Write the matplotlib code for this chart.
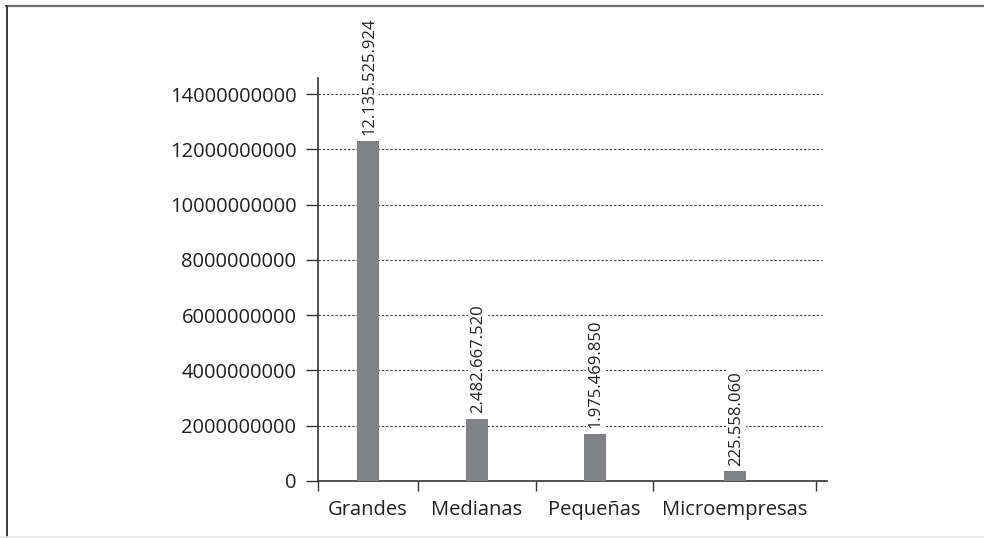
import numpy as np
import matplotlib
matplotlib.use("Agg")
import matplotlib.pyplot as plt
from matplotlib.lines import Line2D
from matplotlib.ticker import FixedLocator, FuncFormatter

plt.rcParams['font.family'] = ['Open Sans', 'DejaVu Sans']

# data
categories = ['Grandes', 'Medianas', 'Pequeñas', 'Microempresas']
bar_values = [12.3e9, 2.25e9, 1.7e9, 0.35e9]
value_labels = ['12.135.525.924', '2.482.667.520', '1.975.469.850', '225.558.060']
y_ticks = [0, 2e9, 4e9, 6e9, 8e9, 10e9, 12e9, 14e9]

# layout: category slots are not the same width in the original
slot_widths = [100, 118, 117, 163]
edges = np.concatenate([[0], np.cumsum(slot_widths)])
centers = (edges[:-1] + edges[1:]) / 2

text_color = '#231f20'
axis_color = '#333333'
bar_color = '#818285'

fig = plt.figure(figsize=(9.84, 5.38), dpi=100)
ax = fig.add_axes([318 / 984, 57 / 538, 509 / 984, 403 / 538])

ax.bar(centers, bar_values, width=22, color=bar_color, zorder=3)

ax.set_xlim(0, edges[-1] + 11)
ax.set_ylim(0, 14.58e9)

# dotted gridlines, stopping a little before the end of the x axis
ax.hlines(y_ticks[1:], 0, edges[-1] + 6, colors='#444444',
          linestyles=(0, (2.2, 1.6)), linewidth=0.8, zorder=1)

for x, v, lab in zip(centers, bar_values, value_labels):
    ax.annotate(lab, xy=(x, v), xytext=(1, 4), textcoords='offset points',
                rotation=90, ha='center', va='bottom', fontsize=12,
                color=text_color, zorder=4,
                bbox=dict(facecolor='white', edgecolor='none', pad=1.5))

for side in ['top', 'right']:
    ax.spines[side].set_visible(False)
for side in ['left', 'bottom']:
    ax.spines[side].set_color(axis_color)
    ax.spines[side].set_linewidth(1.2)

ax.yaxis.set_major_locator(FixedLocator(y_ticks))
ax.yaxis.set_major_formatter(FuncFormatter(lambda v, p: '%d' % v))
ax.tick_params(axis='y', direction='out', length=8.5, width=1.0,
               color=axis_color, pad=7, labelsize=14.5, labelcolor=text_color)

ax.xaxis.set_major_locator(FixedLocator(edges))
ax.xaxis.set_major_formatter(FuncFormatter(lambda v, p: ''))
ax.xaxis.set_minor_locator(FixedLocator(centers))
ax.set_xticklabels(categories, minor=True)
ax.tick_params(axis='x', which='major', direction='out', length=7.5,
               width=1.0, color=axis_color)
ax.tick_params(axis='x', which='minor', length=0, pad=14, labelsize=14.5,
               labelcolor=text_color)

# frame around the picture
fig.add_artist(Line2D([6 / 984, 1], [1 - 6 / 538, 1 - 6 / 538],
                      transform=fig.transFigure, color='#6d6e70', linewidth=1.6))
fig.add_artist(Line2D([7 / 984, 7 / 984], [0, 1 - 6 / 538],
                      transform=fig.transFigure, color='#3a3a3a', linewidth=1.4))
fig.add_artist(Line2D([0, 1], [1.5 / 538, 1.5 / 538],
                      transform=fig.transFigure, color='#e6e6e6', linewidth=1.2))

fig.savefig('out.png', dpi=100, facecolor='white')
